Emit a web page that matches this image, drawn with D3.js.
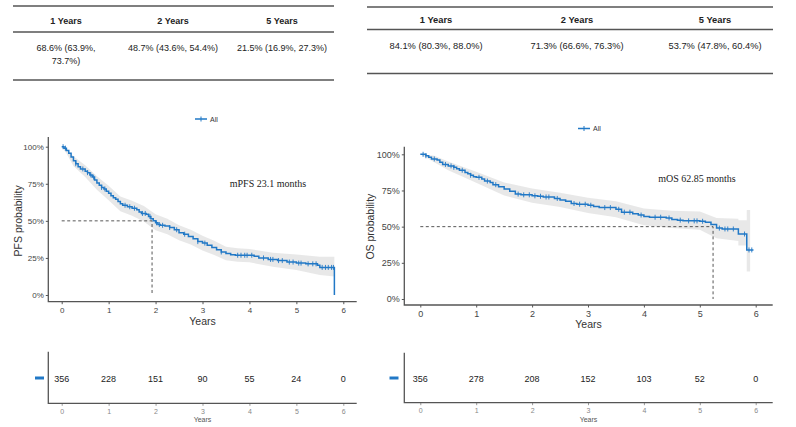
<!DOCTYPE html>
<html>
<head>
<meta charset="utf-8">
<script src="https://cdn.jsdelivr.net/npm/d3@7"></script>
<style>
  body { margin: 0; background: #fff; }
  svg { display: block; font-family: "Liberation Sans", Arial, sans-serif; }
</style>
</head>
<body>
<div id="chart"></div>
<script>
var svgWidth = 796;
var svgHeight = 427;
var blue = "#2178c6";

// landmark survival tables
var yearLabels = ["1 Years", "2 Years", "5 Years"];
var pfsSummary = [["68.6% (63.9%,", "73.7%)"], ["48.7% (43.6%, 54.4%)"], ["21.5% (16.9%, 27.3%)"]];
var osSummary = [["84.1% (80.3%, 88.0%)"], ["71.3% (66.6%, 76.3%)"], ["53.7% (47.8%, 60.4%)"]];

// PFS Kaplan-Meier steps (years, survival)
var pfsTime = [0, 0.05, 0.1, 0.15, 0.2, 0.25, 0.3, 0.35, 0.4, 0.5, 0.55, 0.6, 0.65, 0.7, 0.75, 0.8, 0.85, 0.9, 0.95,
  1.0, 1.05, 1.1, 1.15, 1.2, 1.25, 1.3, 1.4, 1.5, 1.6, 1.65, 1.7, 1.8, 1.85, 1.9, 1.95,
  2.0, 2.05, 2.1, 2.2, 2.3, 2.4, 2.5, 2.6, 2.7, 2.8, 2.9, 3.0, 3.1, 3.2, 3.3, 3.4, 3.5, 3.6, 3.7,
  4.1, 4.2, 4.4, 4.6, 4.8, 5.0, 5.2, 5.45, 5.5, 5.81];
var pfsSurv = [1.0, 0.99, 0.975, 0.955, 0.93, 0.905, 0.885, 0.865, 0.85, 0.835, 0.825, 0.81, 0.795, 0.775, 0.755, 0.74, 0.725, 0.715, 0.70,
  0.686, 0.67, 0.655, 0.645, 0.63, 0.615, 0.605, 0.595, 0.585, 0.575, 0.56, 0.55, 0.545, 0.53, 0.515, 0.50,
  0.487, 0.475, 0.47, 0.465, 0.455, 0.44, 0.42, 0.41, 0.395, 0.38, 0.36, 0.35, 0.335, 0.32, 0.305, 0.29, 0.28, 0.272, 0.268,
  0.262, 0.25, 0.24, 0.232, 0.222, 0.215, 0.21, 0.20, 0.186, 0.0];
var pfsBandTime = [0, 0.1, 0.25, 0.5, 0.75, 1.0, 1.25, 1.5, 1.75, 2.0, 2.25, 2.5, 2.75, 3.0, 3.25, 3.5, 3.75, 4.0, 4.5, 5.0, 5.5, 5.81];
var pfsLower = [1.0, 0.955, 0.87, 0.795, 0.71, 0.639, 0.565, 0.535, 0.495, 0.436, 0.41, 0.37, 0.34, 0.30, 0.27, 0.235, 0.225, 0.22, 0.19, 0.169, 0.135, 0.125];
var pfsUpper = [1.0, 0.99, 0.935, 0.875, 0.80, 0.737, 0.665, 0.635, 0.60, 0.544, 0.515, 0.47, 0.44, 0.40, 0.365, 0.325, 0.315, 0.31, 0.285, 0.273, 0.258, 0.258];
var pfsCensor = [0.03, 0.08, 0.3, 0.45, 0.55, 0.62, 0.68, 0.85, 0.92, 1.35, 1.45, 1.55, 1.72, 1.78, 1.88, 2.02, 2.08, 2.15,
  2.3, 2.45, 2.62, 2.9, 3.05, 3.4, 3.75, 3.82, 3.9, 3.95, 4.05, 4.3, 4.45, 4.5, 4.62, 4.7, 4.85, 4.93, 5.05, 5.1,
  5.25, 5.35, 5.42, 5.55, 5.62, 5.68, 5.75, 5.79];

// OS Kaplan-Meier steps (years, survival)
var osTime = [0, 0.1, 0.15, 0.2, 0.3, 0.35, 0.4, 0.5, 0.6, 0.65, 0.7, 0.8, 0.85, 0.9, 0.95, 1.0, 1.1, 1.15, 1.25, 1.3,
  1.4, 1.5, 1.6, 1.7, 1.8, 2.0, 2.1, 2.2, 2.4, 2.5, 2.6, 2.7, 2.8, 3.0, 3.1, 3.2, 3.5, 3.6, 3.8, 3.9, 4.0, 4.1,
  4.4, 4.5, 4.6, 4.7, 5.0, 5.1, 5.2, 5.3, 5.4, 5.69, 5.84, 5.96];
var osSurv = [1.0, 0.99, 0.98, 0.968, 0.96, 0.945, 0.93, 0.92, 0.91, 0.90, 0.89, 0.875, 0.865, 0.855, 0.845, 0.841, 0.83, 0.815, 0.805, 0.79,
  0.775, 0.76, 0.745, 0.725, 0.72, 0.713, 0.71, 0.705, 0.695, 0.685, 0.675, 0.66, 0.655, 0.648, 0.64, 0.632, 0.62, 0.60, 0.59, 0.58, 0.57, 0.565,
  0.56, 0.55, 0.545, 0.54, 0.537, 0.53, 0.515, 0.49, 0.484, 0.449, 0.339, 0.339];
var osBandTime = [0, 0.25, 0.5, 1.0, 1.5, 2.0, 2.5, 3.0, 3.5, 4.0, 4.5, 5.0, 5.3, 5.69, 5.69, 5.84, 5.84, 5.9];
var osLower = [1.0, 0.945, 0.89, 0.803, 0.715, 0.666, 0.635, 0.595, 0.565, 0.51, 0.49, 0.478, 0.42, 0.40, 0.37, 0.37, 0.19, 0.19];
var osUpper = [1.0, 0.99, 0.95, 0.88, 0.805, 0.763, 0.735, 0.70, 0.675, 0.625, 0.61, 0.604, 0.56, 0.555, 0.545, 0.545, 0.615, 0.615];
var osCensor = [0.05, 0.1, 0.25, 0.45, 0.55, 0.6, 0.75, 0.9, 1.05, 1.2, 1.35, 1.75, 1.85, 1.95, 2.05, 2.15, 2.25, 2.3,
  2.45, 2.75, 2.85, 2.95, 3.05, 3.3, 3.4, 3.55, 3.65, 3.75, 3.95, 4.2, 4.3, 4.45, 4.65, 4.8, 4.9, 4.95, 5.05,
  5.35, 5.45, 5.5, 5.6, 5.8, 5.88, 5.93];

// numbers at risk
var riskTimes = [0, 1, 2, 3, 4, 5, 6];
var pfsRisk = [356, 228, 151, 90, 55, 24, 0];
var osRisk = [356, 278, 208, 152, 103, 52, 0];
var yTicks = [0, 0.25, 0.5, 0.75, 1];
var pfsMedian = 23.1 / 12;
var osMedian = 62.85 / 12;

var svg = d3.select("#chart").append("svg")
  .attr("width", svgWidth)
  .attr("height", svgHeight);

// top tables
function drawTable(t) {
  var g = svg.append("g");
  [t.top, t.mid, t.bottom].forEach(function(y) {
    g.append("line").attr("x1", t.left).attr("x2", t.right).attr("y1", y).attr("y2", y)
      .attr("stroke", "#555").attr("stroke-width", 1.3);
  });
  g.selectAll(".head").data(yearLabels).enter().append("text")
    .attr("x", (d, i) => t.cols[i]).attr("y", t.headY)
    .attr("text-anchor", "middle").attr("font-size", t.fs).attr("font-weight", "bold").attr("fill", "#222")
    .text(d => d);
  t.rows.forEach(function(lines, i) {
    lines.forEach(function(s, j) {
      g.append("text").attr("x", t.cols[i]).attr("y", t.rowY + j * 12.5)
        .attr("text-anchor", "middle").attr("font-size", t.fs).attr("fill", "#222").text(s);
    });
  });
}

drawTable({ left: 13, right: 334, top: 6, mid: 32, bottom: 80, headY: 24, rowY: 51,
  cols: [66, 173, 282], fs: 9, rows: pfsSummary });
drawTable({ left: 367, right: 773, top: 7, mid: 29.5, bottom: 73.5, headY: 23, rowY: 49,
  cols: [436, 577, 715], fs: 9.3, rows: osSummary });

function stepAt(times, surv, t) {
  var i = d3.bisectRight(times, t) - 1;
  return surv[Math.max(0, i)];
}

function drawKM(c) {
  var x = d3.scaleLinear().domain([0, 6]).range([c.x0, c.x6]);
  var y = d3.scaleLinear().domain([0, 1]).range([c.yBottom, c.yTop]);
  var g = svg.append("g");

  // legend
  g.append("line").attr("x1", c.legX).attr("x2", c.legX + 12).attr("y1", c.legY).attr("y2", c.legY)
    .attr("stroke", blue).attr("stroke-width", 1.5);
  g.append("line").attr("x1", c.legX + 6).attr("x2", c.legX + 6).attr("y1", c.legY - 2.5).attr("y2", c.legY + 2.5)
    .attr("stroke", blue).attr("stroke-width", 1);
  g.append("text").attr("x", c.legX + 15).attr("y", c.legY + 2.5).attr("font-size", 7).attr("fill", "#333").text("All");

  // confidence band
  var band = d3.area()
    .x((d, i) => x(c.bandTime[i]))
    .y0((d, i) => y(c.lower[i]))
    .y1((d, i) => y(c.upper[i]));
  g.append("path").datum(c.bandTime).attr("d", band).attr("fill", "#e6e6e6").attr("opacity", 0.9);

  // median lines
  g.append("path")
    .attr("d", d3.line()([[x(0), y(0.5)], [x(c.median), y(0.5)], [x(c.median), y(0)]]))
    .attr("fill", "none").attr("stroke", "#444").attr("stroke-width", 0.9).attr("stroke-dasharray", "3,2.5");

  // survival curve
  var line = d3.line().curve(d3.curveStepAfter)
    .x((d, i) => x(c.time[i]))
    .y((d, i) => y(c.surv[i]));
  g.append("path").datum(c.time).attr("d", line)
    .attr("fill", "none").attr("stroke", blue).attr("stroke-width", 1.5);

  g.selectAll(".cens").data(c.censor).enter().append("line")
    .attr("x1", d => x(d)).attr("x2", d => x(d))
    .attr("y1", d => y(stepAt(c.time, c.surv, d)) - 2.5)
    .attr("y2", d => y(stepAt(c.time, c.surv, d)) + 2.5)
    .attr("stroke", blue).attr("stroke-width", 0.9);

  // annotation
  g.append("text").attr("x", c.noteX).attr("y", c.noteY).attr("text-anchor", "middle")
    .attr("font-family", "'Liberation Serif', 'Times New Roman', serif").attr("font-size", 10)
    .attr("fill", "#222").text(c.note);

  // axes
  var yAxis = g.append("g").attr("transform", `translate(${c.axisX},0)`)
    .call(d3.axisLeft(y).tickValues(yTicks).tickFormat(d3.format(".0%")).tickSize(2.5).tickPadding(2));
  var xAxis = g.append("g").attr("transform", `translate(0,${c.axisBottom})`)
    .call(d3.axisBottom(x).tickValues(riskTimes).tickFormat(d3.format("d")).tickSize(2.5).tickPadding(3));
  [yAxis, xAxis].forEach(function(a) {
    a.select(".domain").remove();
    a.selectAll("line").attr("stroke", "#555");
    a.selectAll("text").attr("font-size", c.tickFs).attr("fill", "#444").attr("font-family", "'Liberation Sans', Arial, sans-serif");
  });
  g.append("path")
    .attr("d", d3.line()([[c.axisX, c.axisTop], [c.axisX, c.axisBottom], [c.axisRight, c.axisBottom]]))
    .attr("fill", "none").attr("stroke", "#555").attr("stroke-width", 1.3);

  g.append("text").attr("x", (c.axisX + c.axisRight) / 2).attr("y", c.axisBottom + 23)
    .attr("text-anchor", "middle").attr("font-size", 10.5).attr("fill", "#333").text("Years");
  g.append("text").attr("transform", `translate(${c.yLabX},${(c.yTop + c.yBottom) / 2}) rotate(-90)`)
    .attr("text-anchor", "middle").attr("font-size", 10.5).attr("fill", "#333").text(c.yLabel);

  // risk table
  var r = c.risk;
  var rg = svg.append("g");
  rg.append("line").attr("x1", r.dashX).attr("x2", r.dashX + 9).attr("y1", r.rowY).attr("y2", r.rowY)
    .attr("stroke", blue).attr("stroke-width", 3);
  rg.selectAll(".num").data(c.atRisk).enter().append("text")
    .attr("x", (d, i) => x(riskTimes[i])).attr("y", r.rowY + 3.5)
    .attr("text-anchor", "middle").attr("font-size", 9).attr("fill", "#222").text(d => d);
  var rAxis = rg.append("g").attr("transform", `translate(0,${r.bottom})`)
    .call(d3.axisBottom(x).tickValues(riskTimes).tickFormat(d3.format("d")).tickSize(2.5).tickPadding(3));
  rAxis.select(".domain").remove();
  rAxis.selectAll("line").attr("stroke", "#999");
  rAxis.selectAll("text").attr("font-size", 7).attr("fill", "#888");
  rg.append("path")
    .attr("d", d3.line()([[c.axisX, r.top], [c.axisX, r.bottom], [c.axisRight, r.bottom]]))
    .attr("fill", "none").attr("stroke", "#555").attr("stroke-width", 1.3);
  rg.append("text").attr("x", (c.axisX + c.axisRight) / 2).attr("y", r.bottom + 19)
    .attr("text-anchor", "middle").attr("font-size", 7).attr("fill", "#555").text("Years");
}

drawKM({
  x0: 61.7, x6: 343.3, yTop: 146.7, yBottom: 295,
  axisX: 48.3, axisTop: 137, axisBottom: 301.7, axisRight: 356.7,
  legX: 195, legY: 119, noteX: 268, noteY: 187, note: "mPFS 23.1 months",
  yLabX: 22, yLabel: "PFS probability", tickFs: 8,
  time: pfsTime, surv: pfsSurv, bandTime: pfsBandTime, lower: pfsLower, upper: pfsUpper,
  censor: pfsCensor, median: pfsMedian, atRisk: pfsRisk,
  risk: { top: 351.7, bottom: 403.3, rowY: 378, dashX: 35 }
});

drawKM({
  x0: 420.3, x6: 755.7, yTop: 154.3, yBottom: 299,
  axisX: 404.3, axisTop: 146.7, axisBottom: 305, axisRight: 772.7,
  legX: 578, legY: 128.5, noteX: 697, noteY: 181.5, note: "mOS 62.85 months",
  yLabX: 374, yLabel: "OS probability", tickFs: 9,
  time: osTime, surv: osSurv, bandTime: osBandTime, lower: osLower, upper: osUpper,
  censor: osCensor, median: osMedian, atRisk: osRisk,
  risk: { top: 352.7, bottom: 402.7, rowY: 378, dashX: 389.5 }
});
</script>
</body>
</html>
